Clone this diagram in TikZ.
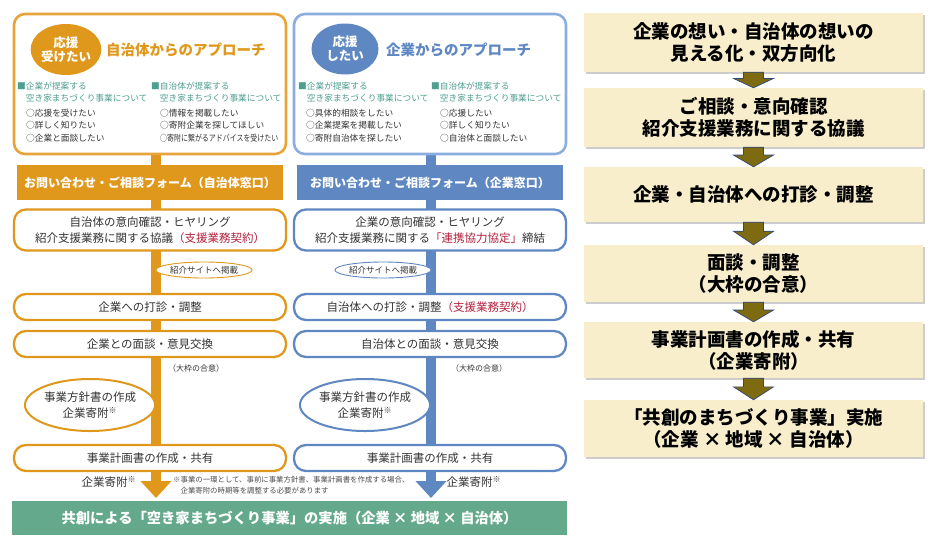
\documentclass[tikz,border=0pt]{standalone}
\usepackage{fontspec}
\usepackage{graphicx}
\setmainfont{Noto Sans CJK JP}
\usetikzlibrary{shapes.geometric,arrows.meta,calc,shadows}
\definecolor{orA}{HTML}{E0981C}
\definecolor{orT}{HTML}{E6A43A}
\definecolor{blA}{HTML}{5F88C2}
\definecolor{blT}{HTML}{8AAEDD}
\definecolor{tealc}{HTML}{4E9F90}
\definecolor{myred}{HTML}{B3203C}
\definecolor{grn}{HTML}{64A98B}
\definecolor{beige}{HTML}{F9EECC}
\definecolor{olive}{HTML}{7E6A10}
\definecolor{navy}{HTML}{2E4A7D}
\definecolor{txt}{HTML}{333333}
\newcommand\myfs[2]{\fontsize{#1}{#2}\selectfont}
\newcommand\rarrow[2]{%
  \coordinate (m#1) at ($(#1.south)!0.4!(#2.north)$);
  \draw[rarr] ($(#1.south)+(-10,0)$) -- ($(m#1)+(-10,0)$) -- ($(m#1)+(-20,0)$) -- (#2.north) -- ($(m#1)+(20,0)$) -- ($(m#1)+(10,0)$) -- ($(#1.south)+(10,0)$) -- cycle;}
\begin{document}
\begin{tikzpicture}[x=1pt,y=-1pt,
  every node/.style={inner sep=0pt},
  topbox/.style={draw=#1, line width=2.6pt, rounded corners=11pt, fill=white, minimum width=272pt, minimum height=140pt},
  circ/.style={ellipse, fill=#1, text=white, font=\myfs{12.5}{14}\bfseries, align=center, minimum width=67pt, minimum height=51pt},
  ttl/.style={anchor=west, text=#1, font=\myfs{14.5}{16}\bfseries},
  hdr/.style={anchor=west, text=tealc, align=left, font=\myfs{8.7}{12}},
  itm/.style={anchor=west, text=txt, align=left, font=\myfs{8.7}{12.5}},
  band/.style={fill=#1, text=white, font=\myfs{12}{14}\bfseries, minimum width=266pt, minimum height=35pt},
  proc/.style={draw=#1, line width=2.3pt, rounded corners=12pt, fill=white, minimum width=272pt, minimum height=26pt, text=txt, align=center, font=\myfs{11.5}{16}},
  site/.style={ellipse, draw=#1, line width=0.9pt, fill=white, minimum width=84pt, minimum height=16pt, text=txt, font=\myfs{8.5}{10}},
  small/.style={text=txt, font=\myfs{8}{10}},
  ell/.style={ellipse, draw=#1, line width=2pt, fill=white, minimum width=124pt, minimum height=52pt, text=txt, align=center, font=\myfs{11.5}{16}},
  kifu/.style={text=txt, font=\myfs{11.5}{14}},
  spine/.style={line width=10pt, draw=#1, -{Triangle[width=30pt,length=17pt]}},
  rbox/.style={fill=beige, drop shadow={shadow xshift=1.5pt, shadow yshift=-1.5pt, fill=black!40, opacity=0.5}, minimum width=339pt, text=black, align=center, font=\myfs{18.5}{22}\bfseries},
  rarr/.style={fill=olive, draw=navy, line width=0.7pt, line join=miter}
]
\useasboundingbox (0,0) rectangle (950,550);

% spines
\coordinate (os) at (156,150); \coordinate (oe) at (156,498);
\coordinate (bs) at (431,150); \coordinate (be) at (431,498);
\draw[spine=orA] (os) -- (oe);
\draw[spine=blA] (bs) -- (be);

% ===== orange panel =====
\node[topbox=orT] (otop) at (150,84) {};
\node[circ=orA] (ocirc) at (66,49.5) {応援\\受けたい};
\node[ttl=orA] (ottl) at (106,50) {自治体からのアプローチ};
\node[hdr] (oh1) at (17,92) {■企業が提案する\\\phantom{■}空き家まちづくり事業について};
\node[hdr] (oh2) at (151,92) {■自治体が提案する\\\phantom{■}空き家まちづくり事業について};
\node[itm] (oi1) at (26,125.5) {○応援を受けたい\\○詳しく知りたい\\○企業と面談したい};
\node[itm] (oi2) at (160,125.5) {○情報を掲載したい\\○寄附企業を探してほしい\\\scalebox{0.8}[1]{○寄附に繋がるアドバイスを受けたい}};
\node[band=orA] (oband) at (150,182.5) {お問い合わせ・ご相談フォーム（自治体窓口）};
\node[proc=orA, minimum height=41pt] (op1) at (150,230) {自治体の意向確認・ヒヤリング\\紹介支援業務に関する協議\textcolor{myred}{（支援業務契約）}};
\node[site=orA] (osite) at (204,270) {紹介サイトへ掲載};
\node[proc=orA] (op2) at (150,307) {企業への打診・調整};
\node[proc=orA] (op3) at (150,344) {企業との面談・意見交換};
\node[small] (ogoui) at (196,368) {（大枠の合意）};
\node[ell=orA] (oell) at (90,405) {事業方針書の作成\\企業寄附\textsuperscript{※}};
\node[proc=orA] (op4) at (150,458) {事業計画書の作成・共有};
\node[kifu] (okifu) at (109,482) {企業寄附\textsuperscript{※}};

% ===== blue panel =====
\node[topbox=blT] (btop) at (430,84) {};
\node[circ=blA] (bcirc) at (345,49) {応援\\したい};
\node[ttl=blA] (bttl) at (386,50) {企業からのアプローチ};
\node[hdr] (bh1) at (298,92) {■企業が提案する\\\phantom{■}空き家まちづくり事業について};
\node[hdr] (bh2) at (431,92) {■自治体が提案する\\\phantom{■}空き家まちづくり事業について};
\node[itm] (bi1) at (306,125.5) {○具体的相談をしたい\\○企業提案を掲載したい\\○寄附自治体を探したい};
\node[itm] (bi2) at (440,125.5) {○応援したい\\○詳しく知りたい\\○自治体と面談したい};
\node[band=blA] (bband) at (430,182.5) {お問い合わせ・ご相談フォーム（企業窓口）};
\node[proc=blA, minimum height=41pt] (bp1) at (430,230) {企業の意向確認・ヒヤリング\\紹介支援業務に関する\textcolor{myred}{「連携協力協定」}締結};
\node[site=blA] (bsite) at (383,270) {紹介サイトへ掲載};
\node[proc=blA] (bp2) at (430,307) {自治体への打診・調整\textcolor{myred}{（支援業務契約）}};
\node[proc=blA] (bp3) at (430,344) {自治体との面談・意見交換};
\node[small] (bgoui) at (479,368) {（大枠の合意）};
\node[ell=blA] (bell) at (365,405) {事業方針書の作成\\企業寄附\textsuperscript{※}};
\node[proc=blA] (bp4) at (430,458) {事業計画書の作成・共有};
\node[kifu] (bkifu) at (474,482) {企業寄附\textsuperscript{※}};

% note
\node[anchor=west, text=black!70, align=left, font=\myfs{7.4}{11}] (note) at (173,485.5) {※事業の一環として、事前に事業方針書、事業計画書を作成する場合、\\\phantom{※}企業寄附の時期等を調整する必要があります};

% green band
\node[fill=grn, minimum width=555pt, minimum height=34pt, text=white, font=\myfs{14.3}{16}\bfseries] (gband) at (289.5,518) {共創による「空き家まちづくり事業」の実施（企業 × 地域 × 自治体）};

% ===== right column =====
\node[rbox, minimum height=59pt] (r1) at (753.5,42.5) {企業の想い・自治体の想いの\\見える化・双方向化};
\node[rbox, minimum height=59pt] (r2) at (753.5,117.5) {ご相談・意向確認\\紹介支援業務に関する協議};
\node[rbox, minimum height=55pt] (r3) at (753.5,194.5) {企業・自治体への打診・調整};
\node[rbox, minimum height=57pt] (r4) at (753.5,273.5) {面談・調整\\（大枠の合意）};
\node[rbox, minimum height=56pt] (r5) at (753.5,350) {事業計画書の作成・共有\\（企業寄附）};
\node[rbox, minimum height=57pt] (r6) at (753.5,428.5) {「共創のまちづくり事業」実施\\（企業 × 地域 × 自治体）};
\rarrow{r1}{r2}
\rarrow{r2}{r3}
\rarrow{r3}{r4}
\rarrow{r4}{r5}
\rarrow{r5}{r6}
\end{tikzpicture}
\end{document}
